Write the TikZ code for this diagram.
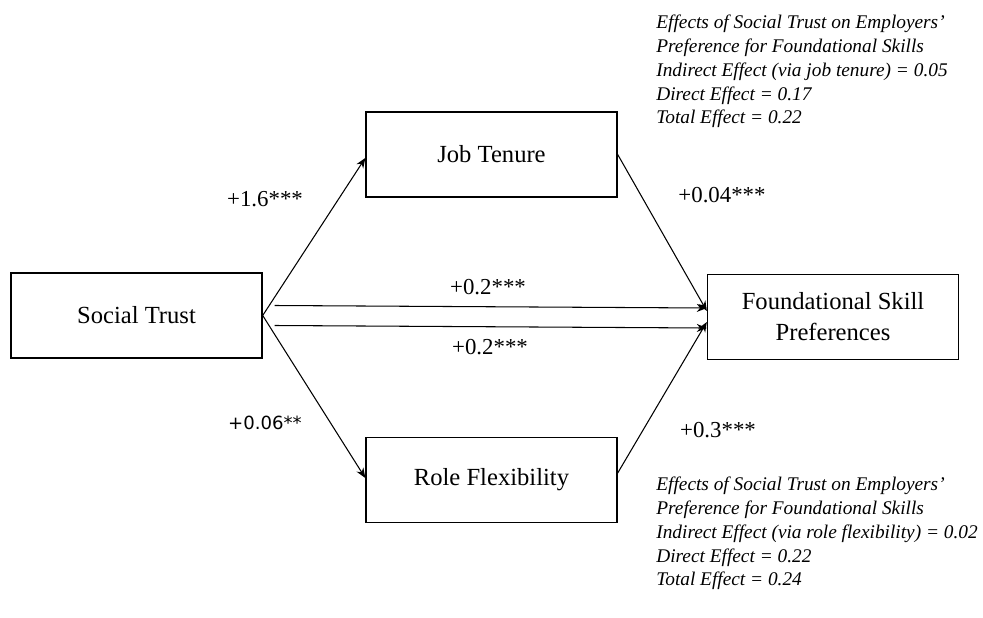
\documentclass[tikz,border=0pt]{standalone}
\usepackage{fontspec}
\setmainfont{Liberation Serif}
\newfontfamily\lblsans{DejaVu Sans}
\usepackage{tikz}
\usetikzlibrary{arrows.meta, positioning}
\tikzset{
  var/.style  ={draw, rectangle, minimum width=5.02cm, minimum height=1.7cm,
                inner sep=2pt, line width=0.8pt, align=center,
                font=\fontsize{14}{17.6}\selectfont},
  path/.style ={-{Stealth[length=2mm, width=1.6mm]}, line width=0.6pt},
  coef/.style ={font=\fontsize{13}{15}\selectfont},
  coefs/.style={font=\lblsans\fontsize{10.3}{12}\selectfont},
  fx/.style   ={anchor=north west, inner sep=0pt, align=left,
                font=\fontsize{11}{13.5}\selectfont\itshape},
}

\begin{document}
\begin{tikzpicture}
  \useasboundingbox (0,0) rectangle (19.66,-12.36);
  % ---- variables
  \node[var] (st) at (2.73,-6.31)  {Social Trust};
  \node[var] (jt) at (9.83,-3.09)  {Job Tenure};
  \node[var] (rf) at (9.83,-9.60)  {Role Flexibility};
  \node[var] (fs) at (16.66,-6.34) {Foundational Skill\\Preferences};
  % ---- paths
  \draw[path] (st.east) -- ([yshift=-0.07cm]jt.west);
  \draw[path] (st.east) -- ([yshift=0.04cm]rf.west);
  \draw[path] (jt.east) -- ([yshift=0.12cm]fs.west);
  \draw[path] ([yshift=0.14cm]rf.east) -- ([yshift=-0.10cm]fs.west);
  \draw[path] ([xshift=0.24cm,yshift=0.20cm]st.east) -- ([yshift=0.18cm]fs.west);
  \draw[path] ([xshift=0.24cm,yshift=-0.20cm]st.east) -- ([yshift=-0.22cm]fs.west);
  % ---- coefficients
  \node[coef]  (c1) at (5.30,-3.98)  {+1.6***};
  \node[coefs] (c2) at (5.30,-8.46)  {+0.06**};
  \node[coef]  (c3) at (9.76,-5.74)  {+0.2***};
  \node[coef]  (c4) at (9.80,-6.94)  {+0.2***};
  \node[coef]  (c5) at (14.44,-3.90) {+0.04***};
  \node[coef]  (c6) at (14.36,-8.60) {+0.3***};
  % ---- effect summaries
  \node[fx] (fxjt) at (13.12,-0.30)
    {Effects of Social Trust on Employers'\\
     Preference for Foundational Skills\\
     Indirect Effect (via job tenure) = 0.05\\
     Direct Effect = 0.17\\
     Total Effect = 0.22};
  \node[fx] (fxrf) at (13.12,-9.54)
    {Effects of Social Trust on Employers'\\
     Preference for Foundational Skills\\
     Indirect Effect (via role flexibility) = 0.02\\
     Direct Effect = 0.22\\
     Total Effect = 0.24};
\end{tikzpicture}
\end{document}
